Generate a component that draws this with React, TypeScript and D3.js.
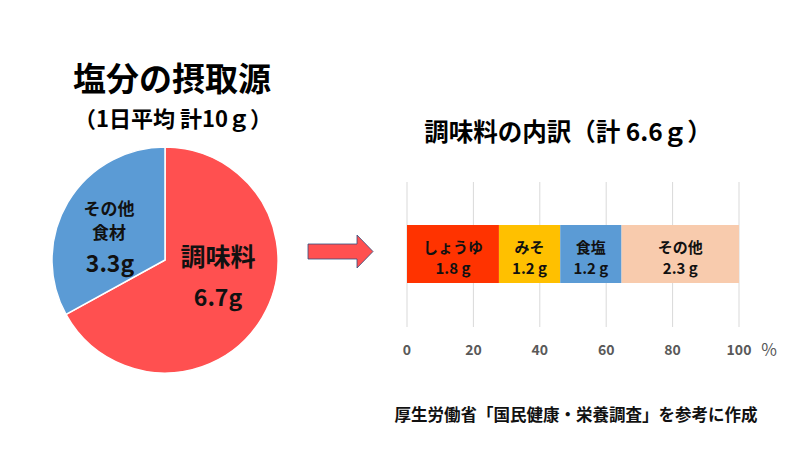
import * as d3 from "d3";

const pieLabels = ["調味料", "その他食材"];
const pieValues = [6.7, 3.3];
const pieColors = ["#FF5050", "#5B9BD5"];

const barLabels = ["しょうゆ", "みそ", "食塩", "その他"];
const barValues = [1.8, 1.2, 1.2, 2.3];
const barColors = ["#FF3300", "#FFC000", "#5B9BD5", "#F8CBAD"];
const xTicks = [0, 20, 40, 60, 80, 100];

const font = "'Noto Sans CJK JP', 'Noto Sans', sans-serif";

export default function App() {
  const cx = 165,
    cy = 260,
    r = 113;

  const pie = d3
    .pie<number>()
    .sort(null)
    .value((d) => d);
  const arcs = pie(pieValues);
  const arc = d3.arc<d3.PieArcDatum<number>>().innerRadius(0).outerRadius(r);

  // stacked bar, as share of the total
  const total = d3.sum(barValues);
  const x = d3.scaleLinear().domain([0, 100]).range([407, 739]);
  const ends = d3.cumsum(barValues).map((v) => (v / total) * 100);
  const starts = [0, ...ends.slice(0, -1)];

  return (
    <svg
      width={800}
      height={450}
      style={{ display: "block", position: "absolute", left: 0, top: 0 }}
      fontFamily={font}
    >
      <rect width={800} height={450} fill="#fff" />

      <text x={172} y={91} textAnchor="middle" fontSize={33} fontWeight="bold">
        塩分の摂取源
      </text>
      <text x={173} y={127} textAnchor="middle" fontSize={22} fontWeight="bold">
        （1日平均 計10ｇ）
      </text>

      <g transform={`translate(${cx},${cy})`}>
        {arcs.map((a, i) => (
          <path key={i} d={arc(a) ?? ""} fill={pieColors[i]} stroke="#fff" strokeWidth={1.5} />
        ))}
      </g>
      <g fontWeight="bold" textAnchor="middle" fill="#111">
        <text x={218} y={266} fontSize={25}>
          {pieLabels[0]}
        </text>
        <text x={218} y={306} fontSize={23}>
          {pieValues[0]}g
        </text>
        <text x={109} y={215} fontSize={17}>
          その他
        </text>
        <text x={109} y={239} fontSize={17}>
          食材
        </text>
        <text x={110} y={272} fontSize={23}>
          {pieValues[1]}g
        </text>
      </g>

      <path
        d="M308,244 L357,244 L357,235 L373,251.5 L357,268 L357,259 L308,259 Z"
        fill="#FF5050"
        stroke="#2F4F7F"
        strokeWidth={0.8}
      />

      <text x={568} y={141} textAnchor="middle" fontSize={24.5} fontWeight="bold">
        調味料の内訳（計 6.6ｇ）
      </text>

      <g>
        {xTicks.map((t) => (
          <g key={t}>
            <line x1={x(t)} x2={x(t)} y1={182} y2={327} stroke="#D9D9D9" strokeWidth={1} />
            <text
              x={x(t)}
              y={355}
              textAnchor="middle"
              fontSize={14}
              fontWeight="bold"
              fill="#595959"
            >
              {t}
            </text>
          </g>
        ))}
        <text x={769} y={356} textAnchor="middle" fontSize={17} fill="#595959">
          %
        </text>
      </g>

      {barValues.map((v, i) => {
        const x0 = x(starts[i]),
          x1 = x(ends[i]);
        const mid = (x0 + x1) / 2;
        return (
          <g key={barLabels[i]}>
            <rect x={x0} y={225} width={x1 - x0} height={58} fill={barColors[i]} />
            <text x={mid} y={253} textAnchor="middle" fontSize={15} fontWeight="bold" fill="#111">
              {barLabels[i]}
            </text>
            <text x={mid} y={274} textAnchor="middle" fontSize={15} fontWeight="bold" fill="#111">
              {v.toFixed(1)} g
            </text>
          </g>
        );
      })}

      <text x={576} y={421} textAnchor="middle" fontSize={16.5} fontWeight="bold" fill="#111">
        厚生労働省「国民健康・栄養調査」を参考に作成
      </text>
    </svg>
  );
}
